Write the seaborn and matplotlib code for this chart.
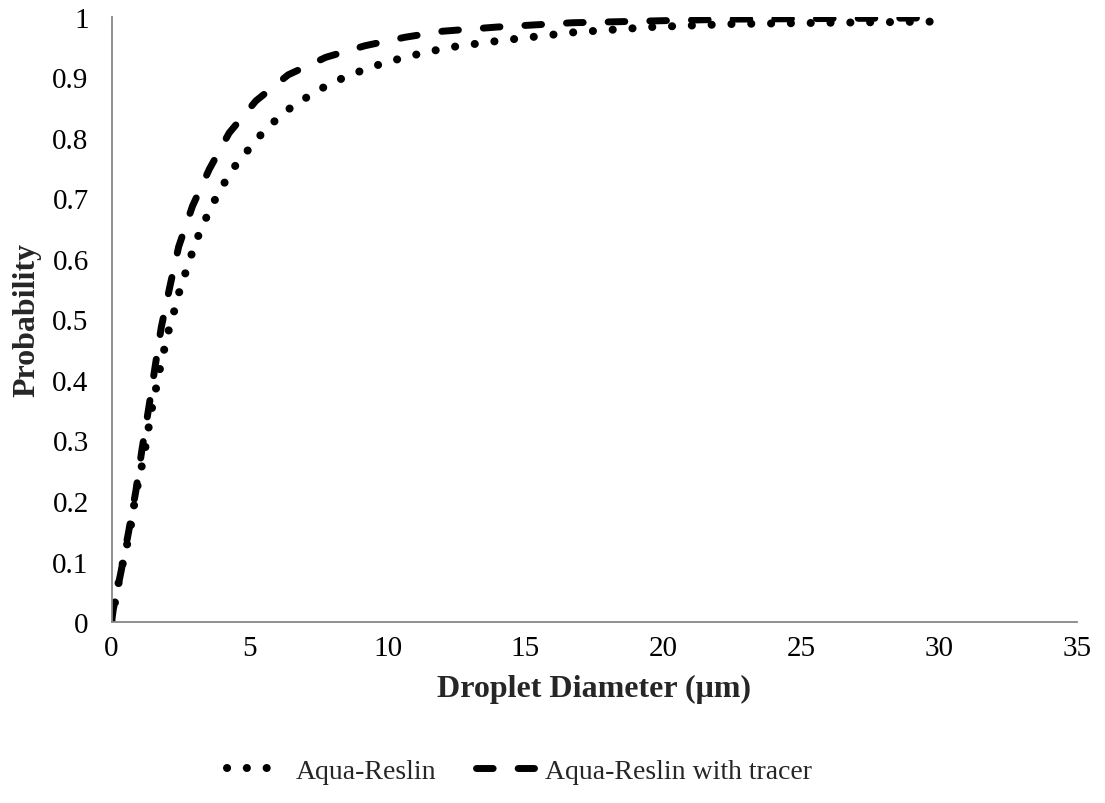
import matplotlib
matplotlib.use("Agg")
import matplotlib.pyplot as plt
import seaborn as sns
import pandas as pd

# Data
aqua_x = [0, 0.12, 0.25, 0.40, 0.56, 0.70, 0.81, 0.94, 1.09, 1.22, 1.34, 1.46, 1.61,
          1.75, 1.91, 2.07, 2.27, 2.45, 2.67, 2.91, 3.15, 3.44, 3.76, 4.12, 4.50, 4.95,
          5.41, 5.92, 6.47, 7.08, 7.71, 8.35, 9.01, 9.70, 10.39, 11.09, 11.79, 12.5,
          14.0, 16.7, 19.6, 22.5, 26.0, 30.0]
aqua_y = [0, 0.032, 0.064, 0.096, 0.128, 0.160, 0.192, 0.225, 0.257, 0.288, 0.321, 0.353,
          0.386, 0.418, 0.451, 0.482, 0.514, 0.545, 0.576, 0.609, 0.639, 0.669, 0.699,
          0.728, 0.755, 0.780, 0.805, 0.828, 0.849, 0.867, 0.884, 0.898, 0.910, 0.921,
          0.930, 0.938, 0.945, 0.951, 0.960, 0.974, 0.983, 0.988, 0.990, 0.992]

tracer_x = [0, 0.06, 0.34, 0.62, 0.88, 1.10, 1.34, 1.57, 1.80, 2.11, 2.43, 2.93, 3.54,
            4.26, 5.23, 6.40, 7.77, 9.18, 10.63, 12.0, 14.0, 16.7, 19.6, 22.5, 26.0, 30.0]
tracer_y = [0, 0.021, 0.083, 0.150, 0.217, 0.285, 0.352, 0.420, 0.487, 0.554, 0.620,
            0.687, 0.748, 0.808, 0.861, 0.904, 0.933, 0.952, 0.966, 0.976, 0.983, 0.990,
            0.993, 0.996, 0.997, 0.998]

series_names = ["Aqua-Reslin", "Aqua-Reslin with tracer"]
x_ticks = [0, 5, 10, 15, 20, 25, 30, 35]
y_ticks = [0, 0.1, 0.2, 0.3, 0.4, 0.5, 0.6, 0.7, 0.8, 0.9, 1]

sns.set_theme(style="white")
plt.rcParams["font.family"] = ["Liberation Serif", "DejaVu Serif"]

fig = plt.figure(figsize=(11.05, 8.04), dpi=100)
ax = fig.add_axes([0.101, 0.225, 0.874, 0.753])

df1 = pd.DataFrame({"x": aqua_x, "y": aqua_y})
df2 = pd.DataFrame({"x": tracer_x, "y": tracer_y})

sns.lineplot(data=df1, x="x", y="y", ax=ax, color="black", lw=5.8, sort=False,
             linestyle=(0, (0.01, 2.45)), dash_capstyle="round", label=series_names[0])
sns.lineplot(data=df2, x="x", y="y", ax=ax, color="black", lw=5, sort=False,
             linestyle=(0, (2.4, 3.6)), dash_capstyle="round", label=series_names[1])

ax.set_xlim(0, 35)
ax.set_ylim(0, 1)
ax.set_xticks(x_ticks)
ax.set_yticks(y_ticks)
ax.set_xticklabels([f"{v:g}" for v in x_ticks])
ax.set_yticklabels([f"{v:g}" for v in y_ticks])

for s in ["top", "right"]:
    ax.spines[s].set_visible(False)
for s in ["left", "bottom"]:
    ax.spines[s].set_color("#878787")
    ax.spines[s].set_linewidth(1.3)
ax.tick_params(axis="both", which="major", direction="out", length=6.5, width=1.3,
               color="#878787", labelsize=21, labelcolor="black")
ax.tick_params(axis="x", pad=3)
ax.tick_params(axis="y", pad=10)
ax.grid(False)

ax.set_xlabel("Droplet Diameter (\u03bcm)", fontsize=23, fontweight="bold", labelpad=9)
ax.set_ylabel("Probability", fontsize=23, fontweight="bold", labelpad=8)

handles, labels = ax.get_legend_handles_labels()
ax.get_legend().remove()
fig.legend(handles, labels, loc="center", bbox_to_anchor=(0.47, 0.04), ncol=2,
           frameon=False, fontsize=20, handlelength=2.1, columnspacing=1.4,
           handletextpad=0.4)

fig.savefig("out.png", dpi=100)
